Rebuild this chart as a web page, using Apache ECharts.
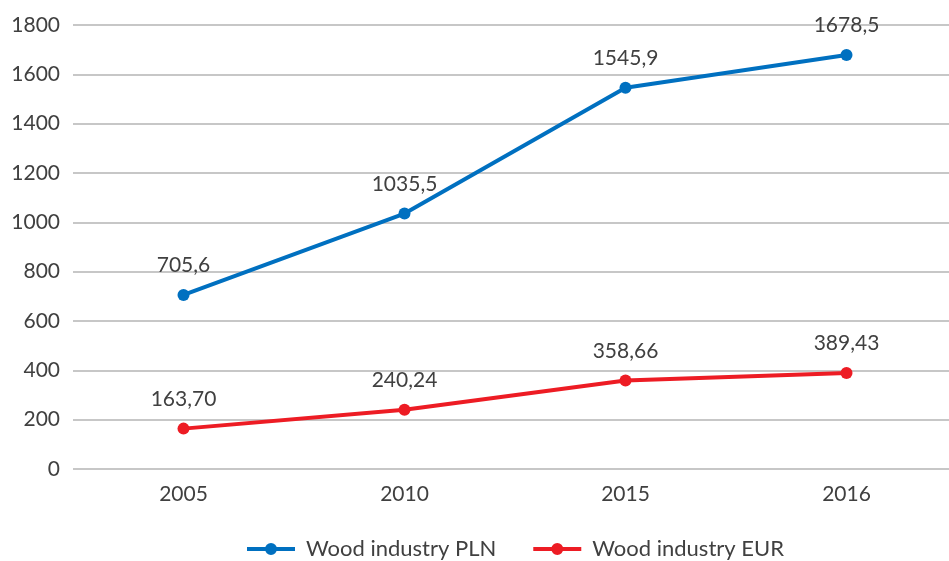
<!DOCTYPE html>
<html>
<head>
<meta charset="utf-8">
<script src="https://cdn.jsdelivr.net/npm/echarts@6/dist/echarts.min.js"></script>
<style>
html, body { margin: 0; padding: 0; background: #fff; overflow: hidden; }
#main { width: 958px; height: 561px; }
</style>
</head>
<body>
<div id="main"></div>
<script>
var years = ['2005', '2010', '2015', '2016'];
var woodPLN = [705.6, 1035.5, 1545.9, 1678.5];
var woodEUR = [163.70, 240.24, 358.66, 389.43];
var yTicks = { min: 0, max: 1800, interval: 200 };

var textColor = '#404040';
var fontName = 'Lato';
// line with a dot in the middle, for the legend
var legendIcon = 'path://M0,5 H48 V9 H0 Z M18,7 A6,6 0 1,1 30,7 A6,6 0 1,1 18,7 Z';

function commaLabel(digits) {
    return function (p) {
        return p.value.toFixed(digits).replace('.', ',');
    };
}

var option = {
    animation: false,
    textStyle: { fontFamily: fontName },
    grid: {
        left: 73,
        top: 25,
        right: 1,
        bottom: 92
    },
    legend: {
        left: 247,
        top: 538,
        padding: 0,
        itemWidth: 48,
        itemHeight: 14,
        itemGap: 37,
        icon: legendIcon,
        textStyle: {
            color: textColor,
            fontSize: 22,
            fontFamily: fontName,
            padding: [0, 0, 0, 6]
        },
        data: ['Wood industry PLN', 'Wood industry EUR']
    },
    xAxis: {
        type: 'category',
        data: years,
        boundaryGap: true,
        axisLine: { show: false },
        axisTick: { show: false },
        axisLabel: { color: textColor, fontSize: 21, margin: 15 }
    },
    yAxis: {
        type: 'value',
        min: yTicks.min,
        max: yTicks.max,
        interval: yTicks.interval,
        axisLine: { show: false },
        axisTick: { show: false },
        axisLabel: {
            color: textColor,
            fontSize: 21,
            margin: 13,
            formatter: function (v) { return String(v); }
        },
        splitLine: { lineStyle: { color: '#b4b4b4', width: 1.5 } }
    },
    series: [
        {
            name: 'Wood industry PLN',
            type: 'line',
            data: woodPLN,
            symbol: 'circle',
            symbolSize: 12,
            lineStyle: { color: '#0070c0', width: 4 },
            itemStyle: { color: '#0070c0' },
            label: {
                show: true,
                position: 'top',
                distance: 13,
                color: textColor,
                fontSize: 21,
                formatter: commaLabel(1)
            }
        },
        {
            name: 'Wood industry EUR',
            type: 'line',
            data: woodEUR,
            symbol: 'circle',
            symbolSize: 12,
            lineStyle: { color: '#ed1c24', width: 4 },
            itemStyle: { color: '#ed1c24' },
            label: {
                show: true,
                position: 'top',
                distance: 13,
                color: textColor,
                fontSize: 21,
                formatter: commaLabel(2)
            }
        }
    ]
};

var myChart = echarts.init(document.getElementById('main'));
myChart.setOption(option);
</script>
</body>
</html>
